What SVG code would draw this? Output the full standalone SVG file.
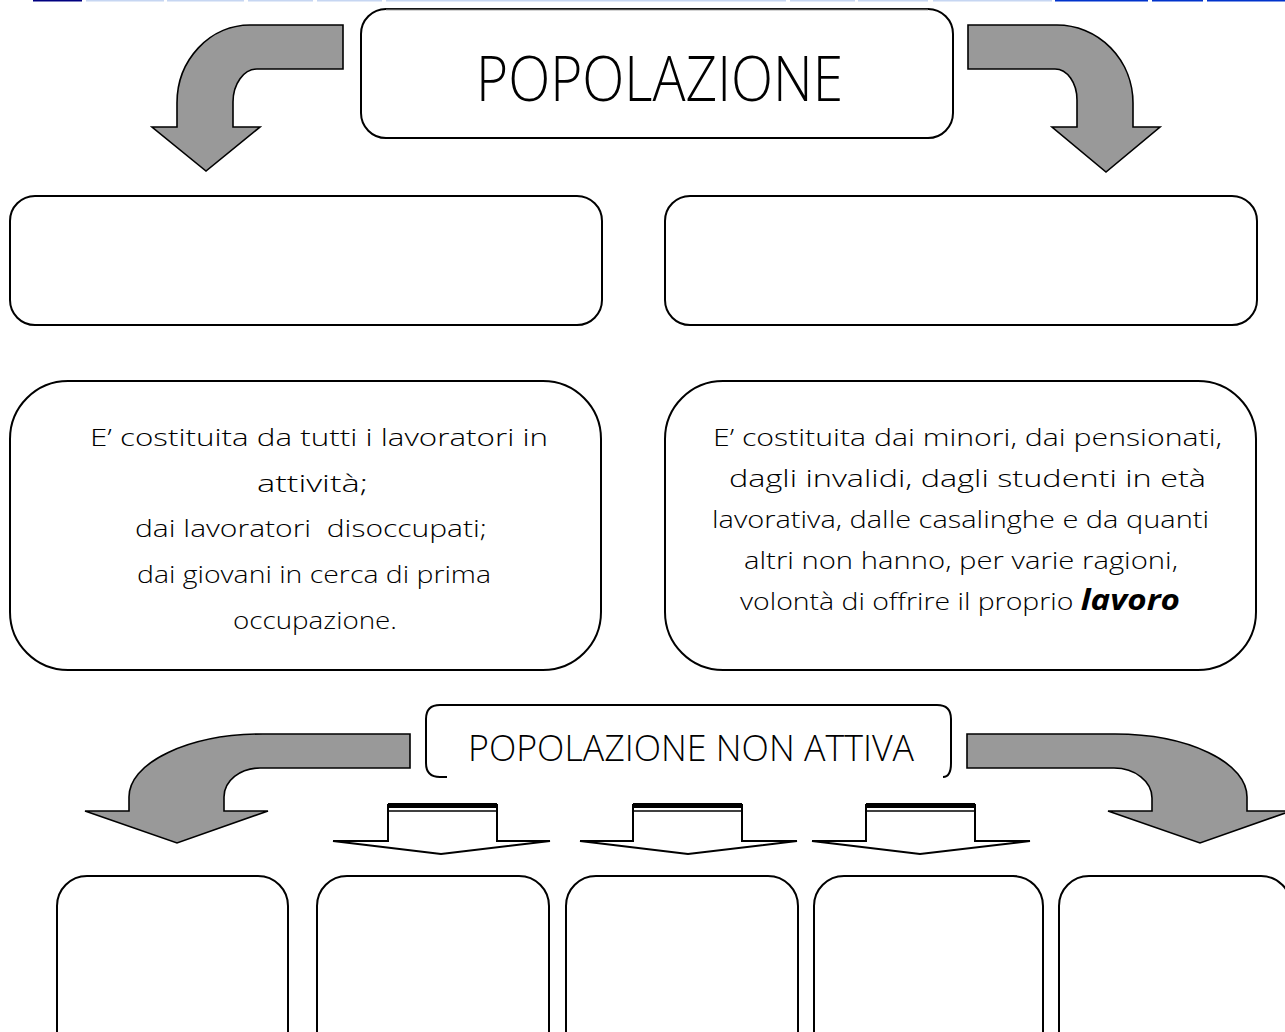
<svg xmlns="http://www.w3.org/2000/svg" width="1285" height="1032" viewBox="0 0 1285 1032">
<style>
.box{fill:#fff;stroke:#000;stroke-width:2}
.arr{fill:#999;stroke:#000;stroke-width:1.6;stroke-linejoin:miter}
.sm{fill:#fff;stroke:#000;stroke-width:2;stroke-linejoin:miter}
.t{font-family:"Open Sans","Liberation Sans","DejaVu Sans",sans-serif;font-weight:300;fill:#000}
.body{font-size:24px}
.lt{fill:#c6d6f2}
.bl{fill:#0033cc}
</style>
<rect width="1285" height="1032" fill="#fff"/>
<g id="topbar">
<rect x="33" y="0" width="49" height="1.5" fill="#000080"/>
<rect class="lt" x="86" y="0" width="78" height="1.5"/>
<rect class="lt" x="167" y="0" width="77" height="1.5"/>
<rect class="lt" x="248" y="0" width="65" height="1.5"/>
<rect class="lt" x="317" y="0" width="65" height="1.5"/>
<rect class="lt" x="386" y="0" width="400" height="1.5"/>
<rect class="lt" x="790" y="0" width="65" height="1.5"/>
<rect class="lt" x="858" y="0" width="70" height="1.5"/>
<rect class="lt" x="933" y="0" width="119" height="1.5"/>
<rect class="bl" x="1055" y="0" width="93" height="1.5"/>
<rect class="bl" x="1152" y="0" width="51" height="1.5"/>
<rect class="bl" x="1207" y="0" width="78" height="1.5"/>
</g>
<g id="connectors">
<path class="arr" d="M343,25 L250,25 A73,78 0 0 0 177,103 L177,127 L152,127 L206,171 L260,127 L233,127 L233,102 A24,33 0 0 1 257,69 L343,69 Z"/>
<path class="arr" d="M968,25 L1057,25 A76,78 0 0 1 1133,103 L1133,127 L1160,127 L1106,172 L1052,127 L1077,127 L1077,100 A22,31 0 0 0 1055,69 L968,69 Z"/>
<path class="arr" d="M410,734 L263,734 A134,63 0 0 0 129,797 L129,811 L85,811 L177,843 L268,811 L224,811 L224,797 A36,29 0 0 1 260,768 L410,768 Z"/>
<path class="arr" d="M967,734 L1115,734 A132,63 0 0 1 1247,797 L1247,811 L1291,811 L1200,843 L1108,811 L1152,811 L1152,798 A38,30 0 0 0 1114,768 L967,768 Z"/>
<g id="small1">
<path class="sm" d="M388,805 L497,805 L497,841 L550,841 L441,854 L333,841 L388,841 Z"/>
<rect x="388" y="803" width="109" height="5" fill="#000"/>
<line x1="388" y1="811" x2="497" y2="811" stroke="#000" stroke-width="1.5"/>
</g>
<g id="small2">
<path class="sm" d="M633,805 L742,805 L742,841 L797,841 L688,854 L580,841 L633,841 Z"/>
<rect x="633" y="803" width="109" height="5" fill="#000"/>
<line x1="633" y1="811" x2="742" y2="811" stroke="#000" stroke-width="1.5"/>
</g>
<g id="small3">
<path class="sm" d="M866,805 L975,805 L975,841 L1030,841 L920,854 L812,841 L866,841 Z"/>
<rect x="866" y="803" width="109" height="5" fill="#000"/>
<line x1="866" y1="811" x2="975" y2="811" stroke="#000" stroke-width="1.5"/>
</g>
</g>
<g id="title">
<rect class="box" x="361" y="9" width="592" height="129" rx="25" ry="25" stroke-width="2.2"/>
<line x1="386" y1="9.5" x2="928" y2="9.5" stroke="#555" stroke-width="1.5"/>
<text class="t" x="476" y="101" font-size="62" textLength="367" lengthAdjust="spacingAndGlyphs">POPOLAZIONE</text>
</g>
<g id="box-left-empty"><rect class="box" x="10" y="196" width="592" height="129" rx="25" ry="25"/></g>
<g id="box-right-empty"><rect class="box" x="665" y="196" width="592" height="129" rx="25" ry="25"/></g>
<g id="box-left-text">
<rect class="box" x="10" y="381" width="591" height="289" rx="58" ry="58"/>
<text class="t body" x="90" y="446" textLength="458" lengthAdjust="spacingAndGlyphs">E’ costituita da tutti i lavoratori in</text>
<text class="t body" x="257" y="492" textLength="111" lengthAdjust="spacingAndGlyphs">attività;</text>
<text class="t body" x="135" y="537" textLength="352" lengthAdjust="spacingAndGlyphs" xml:space="preserve">dai lavoratori  disoccupati;</text>
<text class="t body" x="137" y="583" textLength="354" lengthAdjust="spacingAndGlyphs">dai giovani in cerca di prima</text>
<text class="t body" x="233" y="629" textLength="164" lengthAdjust="spacingAndGlyphs">occupazione.</text>
</g>
<g id="box-right-text">
<rect class="box" x="665" y="381" width="591" height="289" rx="58" ry="58"/>
<text class="t body" x="713" y="446" textLength="509" lengthAdjust="spacingAndGlyphs">E’ costituita dai minori, dai pensionati,</text>
<text class="t body" x="729" y="487" textLength="477" lengthAdjust="spacingAndGlyphs">dagli invalidi, dagli studenti in età</text>
<text class="t body" x="712" y="528" textLength="497" lengthAdjust="spacingAndGlyphs">lavorativa, dalle casalinghe e da quanti</text>
<text class="t body" x="744" y="569" textLength="434" lengthAdjust="spacingAndGlyphs">altri non hanno, per varie ragioni,</text>
<text class="t body" x="740" y="610" textLength="440" lengthAdjust="spacingAndGlyphs">volontà di offrire il proprio <tspan font-weight="bold" font-style="italic" font-size="28">lavoro</tspan></text>
</g>
<g id="non-attiva">
<path d="M447,777 L440,777 Q426,777 426,763 L426,719 Q426,705 440,705 L937,705 Q951,705 951,719 L951,763 Q951,777 943,777" fill="#fff" stroke="#000" stroke-width="2"/>
<text class="t" x="468" y="761" font-size="36" textLength="446" lengthAdjust="spacingAndGlyphs">POPOLAZIONE NON ATTIVA</text>
</g>
<g id="bottom1"><rect class="box" x="57" y="876" width="231" height="200" rx="30" ry="30"/></g>
<g id="bottom2"><rect class="box" x="317" y="876" width="232" height="200" rx="30" ry="30"/></g>
<g id="bottom3"><rect class="box" x="566" y="876" width="232" height="200" rx="30" ry="30"/></g>
<g id="bottom4"><rect class="box" x="814" y="876" width="229" height="200" rx="30" ry="30"/></g>
<g id="bottom5"><rect class="box" x="1059" y="876" width="232" height="200" rx="30" ry="30"/></g>
</svg>
